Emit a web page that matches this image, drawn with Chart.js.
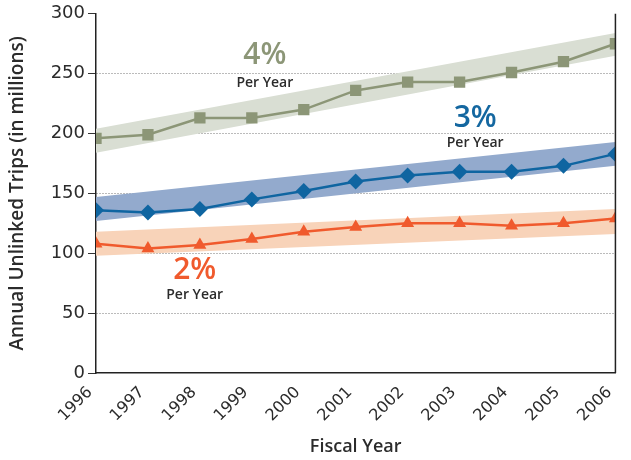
<!DOCTYPE html>
<html>
<head>
<meta charset="utf-8">
<script src="https://cdn.jsdelivr.net/npm/chart.js@4"></script>
<style>
  html, body { margin: 0; padding: 0; background: #fff; }
  #wrap { width: 631px; height: 460px; }
</style>
</head>
<body>
<div id="wrap"><canvas id="chart"></canvas></div>
<script>
const years = [1996, 1997, 1998, 1999, 2000, 2001, 2002, 2003, 2004, 2005, 2006]
const yTicks = [0, 50, 100, 150, 200, 250, 300]

const fourPct = [196, 199, 213, 213, 220, 236, 243, 243, 251, 260, 275]
const threePct = [136, 134, 137, 145, 152, 160, 165, 168, 168, 173, 183]
const twoPct = [108, 104, 107, 112, 118, 122, 125, 125, 123, 125, 129]

// trend bands: value at first and last year
const fourBandHi = [204, 284]
const fourBandLo = [184, 265]
const threeBandHi = [147, 193]
const threeBandLo = [127, 173]
const twoBandHi = [118, 137]
const twoBandLo = [98, 116]

const notes = [
    {big: '4%', small: 'Per Year', color: '#8c9677', x: 1999.25, yBig: 265, ySmall: 242},
    {big: '3%', small: 'Per Year', color: '#1467a0', x: 2003.3, yBig: 213, ySmall: 192},
    {big: '2%', small: 'Per Year', color: '#f05a2d', x: 1997.9, yBig: 86, ySmall: 65},
]

const FONT = '"DejaVu Sans", sans-serif'
const BOLD_FONT = '"Open Sans", sans-serif'

const toPts = vals => vals.map((v, i) => ({x: years[i], y: v}))
const endPts = pair => [{x: years[0], y: pair[0]}, {x: years[years.length - 1], y: pair[1]}]

const band = (hi, lo, color) => [
    {data: endPts(hi), borderWidth: 0, pointRadius: 0, fill: false, order: 5},
    {data: endPts(lo), borderWidth: 0, pointRadius: 0, fill: '-1', backgroundColor: color, order: 5},
]

const line = (vals, color, style, r) => ({
    data: toPts(vals),
    borderColor: color,
    backgroundColor: color,
    borderWidth: 2.5,
    pointStyle: style,
    pointRadius: r,
    pointBorderWidth: 0,
    fill: false,
    order: 1,
})

const notesPlugin = {
    id: 'notes',
    afterDatasetsDraw(chart) {
        const {ctx, scales: {x, y}} = chart
        ctx.save()
        ctx.textAlign = 'center'
        ctx.textBaseline = 'middle'
        notes.forEach(n => {
            ctx.fillStyle = n.color
            ctx.font = '600 30px ' + BOLD_FONT
            ctx.fillText(n.big, x.getPixelForValue(n.x), y.getPixelForValue(n.yBig))
            ctx.fillStyle = '#2b2b2b'
            ctx.font = '600 14px ' + BOLD_FONT
            ctx.fillText(n.small, x.getPixelForValue(n.x), y.getPixelForValue(n.ySmall))
        })
        // right frame line
        const a = chart.chartArea
        ctx.strokeStyle = '#222'
        ctx.lineWidth = 1.5
        ctx.beginPath()
        ctx.moveTo(a.right, a.top)
        ctx.lineTo(a.right, a.bottom)
        ctx.stroke()
        ctx.restore()
    },
}

new Chart(document.getElementById('chart').getContext('2d'), {
    type: 'line',
    data: {
        datasets: [
            ...band(fourBandHi, fourBandLo, '#d9ded3'),
            ...band(threeBandHi, threeBandLo, '#93aacd'),
            ...band(twoBandHi, twoBandLo, '#f8d3b9'),
            line(fourPct, '#8c9677', 'rect', 8),
            line(threePct, '#0f65a1', 'rectRot', 8),
            line(twoPct, '#f05a2d', 'triangle', 7.5),
        ],
    },
    options: {
        responsive: true,
        maintainAspectRatio: false,
        animation: false,
        layout: {padding: {top: 12, right: 14, left: 0, bottom: 0}},
        plugins: {
            legend: {display: false},
            tooltip: {enabled: false},
        },
        scales: {
            x: {
                type: 'linear',
                min: years[0],
                max: years[years.length - 1],
                afterBuildTicks: s => { s.ticks = years.map(v => ({value: v})) },
                ticks: {
                    minRotation: 45,
                    maxRotation: 45,
                    color: '#2b2b2b',
                    font: {family: FONT, size: 16},
                    padding: 2,
                    labelOffset: -6,
                    callback: v => String(v),
                },
                grid: {display: false},
                border: {color: '#222', width: 1.5},
                title: {
                    display: true,
                    text: 'Fiscal Year',
                    color: '#2b2b2b',
                    font: {family: BOLD_FONT, size: 18, weight: '600'},
                    padding: {top: 6, bottom: 2},
                },
                afterFit: s => { s.height = 87 },
            },
            y: {
                min: 0,
                max: 300,
                afterBuildTicks: s => { s.ticks = yTicks.map(v => ({value: v})) },
                ticks: {
                    color: '#2b2b2b',
                    font: {family: FONT, size: 18},
                    padding: 3,
                },
                grid: {
                    color: c => (c.tick && (c.tick.value === 0 || c.tick.value === 300)) ? 'rgba(0,0,0,0)' : '#777',
                    tickColor: '#333',
                    tickLength: 8,
                    lineWidth: 1,
                },
                border: {color: '#222', width: 1.5, dash: [1, 2]},
                title: {
                    display: true,
                    text: 'Annual Unlinked Trips (in millions)',
                    color: '#2b2b2b',
                    font: {family: BOLD_FONT, size: 19, weight: '600'},
                    padding: {top: 6, bottom: 0},
                },
                afterFit: s => { s.width = 96 },
            },
        },
    },
    plugins: [notesPlugin],
})
</script>
</body>
</html>
